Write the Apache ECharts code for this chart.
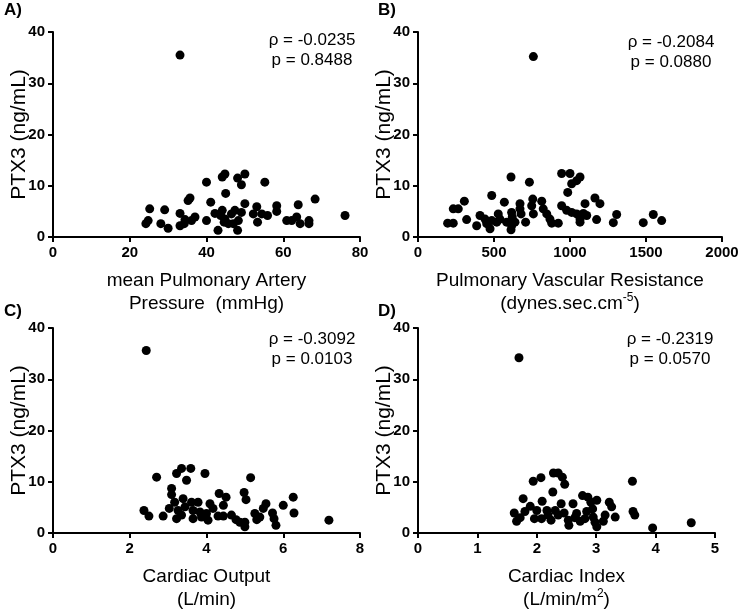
<!DOCTYPE html>
<html><head><meta charset="utf-8">
<script src="https://cdn.jsdelivr.net/npm/echarts@6/dist/echarts.min.js"></script>
<style>html,body{margin:0;padding:0;background:#fff}#c{width:742px;height:616px}</style>
</head><body><div id="c"></div>
<script>
// Panel A: mean Pulmonary Artery Pressure (mmHg) vs PTX3
var aX = [33.1,25.2,24.8,24.2,28.1,30.0,29.1,33.1,33.1,34.2,34.4,35.7,35.2,37.0,36.1,40.0,40.0,41.1,42.2,43.0,44.1,44.8,45.0,44.1,43.7,44.8,44.6,45.7,46.5,47.4,48.1,49.1,50.0,50.0,48.1,47.0,48.3,49.1,53.1,52.2,53.3,54.4,55.2,55.9,58.3,58.3,60.9,62.2,63.9,63.5,64.4,66.7,66.7,68.3,76.1];
var aY = [35.5,5.5,3.2,2.6,2.6,1.7,5.3,4.6,2.2,2.6,3.4,7.6,7.1,3.9,3.2,3.2,10.7,6.8,4.6,1.3,11.7,12.3,8.5,5.2,4.2,3.5,2.9,2.6,4.5,5.2,11.5,10.2,12.3,6.5,1.3,2.6,3.2,4.8,5.9,4.5,2.9,4.5,10.7,4.2,6.1,5.0,3.2,3.2,6.3,3.9,2.6,3.2,2.6,7.4,4.2];
// Panel B: Pulmonary Vascular Resistance vs PTX3
var bX = [759,195,232,232,265,305,320,386,408,441,452,474,485,485,518,528,539,568,583,612,616,620,616,612,638,671,671,678,708,733,755,748,759,814,824,847,868,880,923,945,1000,1011,1044,1066,985,945,978,1011,1044,1066,1066,1099,1088,1110,1164,1197,1175,1307,1285,1482,1548,1603];
var bY = [35.2,2.7,2.7,5.5,5.5,7.0,3.4,2.2,4.2,3.5,2.6,1.6,8.1,3.2,2.9,4.5,3.5,6.8,2.9,11.7,4.8,3.9,2.2,1.4,2.9,6.5,5.5,4.5,2.9,10.7,7.4,6.1,4.5,7.0,5.5,4.5,3.5,2.7,2.7,12.4,12.4,10.4,11.0,11.7,8.7,6.1,5.2,4.8,4.5,3.5,2.9,6.5,4.6,4.2,7.6,6.5,3.4,4.4,2.8,2.8,4.4,3.2];
// Panel C: Cardiac Output (L/min) vs PTX3
var cX = [2.43,2.37,2.50,2.70,2.87,3.03,3.09,3.09,3.22,3.35,3.48,3.59,3.96,3.17,3.26,3.22,3.39,3.44,3.35,3.61,3.65,3.65,3.78,3.83,3.87,4.00,4.04,4.09,4.17,4.33,4.44,4.51,4.30,4.44,4.65,4.77,4.87,5.00,5.00,4.98,5.03,5.15,5.26,5.31,5.39,5.48,5.55,5.72,5.76,5.81,6.00,6.26,6.28,7.19];
var cY = [35.6,4.4,3.3,10.9,3.3,4.8,8.7,7.5,11.6,12.6,10.3,12.6,11.6,6.0,4.4,2.8,6.7,5.1,3.5,6.0,4.4,2.8,6.0,4.1,3.1,3.8,2.5,5.7,4.8,7.7,5.4,7.0,3.3,3.3,3.5,2.6,2.1,2.1,1.2,7.9,6.5,10.8,3.8,2.6,3.1,4.8,5.7,3.9,2.8,1.5,5.4,7.0,3.9,2.5];
// Panel D: Cardiac Index (L/min/m2) vs PTX3
var dX = [1.70,1.62,1.66,1.72,1.77,1.80,1.89,1.94,1.96,2.00,2.07,2.09,2.08,2.17,2.19,2.24,2.27,2.28,2.36,2.43,2.47,2.31,2.36,2.41,2.46,2.53,2.54,2.61,2.64,2.67,2.73,2.77,2.86,2.84,2.81,2.91,2.94,2.95,3.01,3.01,2.98,3.12,3.15,3.22,3.26,3.32,3.61,3.62,3.65,3.95,4.60];
var dY = [34.2,3.9,2.3,3.0,6.7,4.2,5.2,10.1,2.8,4.4,10.8,6.2,2.8,4.4,3.5,2.5,8.0,11.7,11.7,10.9,9.5,4.4,3.5,5.7,3.9,2.5,1.5,5.7,3.0,3.8,2.3,7.3,7.0,4.2,2.8,6.0,4.7,3.1,6.4,1.2,2.1,2.3,3.5,6.0,5.1,3.1,10.1,4.2,3.5,1.0,2.0];
var yTicks = [0,10,20,30,40];
var panelLabels = ['A)','B)','C)','D)'];
var statsRho = ['\u03c1 = -0.0235','\u03c1 = -0.2084','\u03c1 = -0.3092','\u03c1 = -0.2319'];
var statsP = ['p = 0.8488','p = 0.0880','p = 0.0103','p = 0.0570'];
var xNames = ['mean Pulmonary Artery\nPressure  (mmHg)','Pulmonary Vascular Resistance\n(dynes.sec.cm{sup|-5})','Cardiac Output\n(L/min)','Cardiac Index\n(L/min/m{sup|2})'];
var yName = 'PTX3 (ng/mL)';
var xMax = [80,2000,8,5];
var xInt = [20,500,2,1];

function pairs(xs, ys){ return xs.map(function(x,i){return [x, ys[i]];}); }
var seriesData = [pairs(aX,aY), pairs(bX,bY), pairs(cX,cY), pairs(dX,dY)];

var FONT = '"Liberation Sans", Arial, sans-serif';
var grids = [
  {left:53, top:32, width:307, height:205},
  {left:418, top:32, width:304, height:205},
  {left:53, top:328, width:307, height:205},
  {left:418, top:328, width:297, height:205}
];
var axisLine = {show:true, lineStyle:{color:'#000', width:2}};
var axisTick = {show:true, inside:false, length:5, lineStyle:{color:'#000', width:2}};
var xAxes = [], yAxes = [], series = [], graphics = [];
for (var i=0;i<4;i++){
  xAxes.push({type:'value', gridIndex:i, min:0, max:xMax[i], interval:xInt[i],
    axisLine:axisLine, axisTick:axisTick, splitLine:{show:false},
    axisLabel:{color:'#000', fontFamily:FONT, fontWeight:700, fontSize:15, margin:8,
      formatter:function(v){return String(v);}},
    name:xNames[i], nameLocation:'middle', nameGap:32, nameMoveOverlap:false,
    nameTextStyle:{color:'#000', fontFamily:FONT, fontSize:19, lineHeight:23,
      rich:{sup:{fontSize:12, verticalAlign:'top', lineHeight:23, padding:[0,0,10,0], fontFamily:FONT, color:'#000'}}}
  });
  yAxes.push({type:'value', gridIndex:i, min:0, max:40, interval:10,
    axisLine:axisLine, axisTick:axisTick, splitLine:{show:false},
    axisLabel:{color:'#000', fontFamily:FONT, fontWeight:700, fontSize:15, margin:8,
      formatter:function(v){return String(v);}},
    name:yName, nameLocation:'middle', nameGap:23, nameRotate:90, nameMoveOverlap:false,
    nameTextStyle:{color:'#000', fontFamily:FONT, fontSize:21}
  });
  series.push({type:'scatter', xAxisIndex:i, yAxisIndex:i, data:seriesData[i],
    symbol:'circle', symbolSize:9, itemStyle:{color:'#000', opacity:1}, silent:true});
}
var labelPos = [[4,12],[378,12],[4,313],[378,313]];
var statPos = [[312,40],[671,42],[312,339],[670,339]];
for (var j=0;j<4;j++){
  graphics.push({type:'text', left:labelPos[j][0], top:labelPos[j][1]-10,
    style:{text:panelLabels[j], font:'bold 17px '+FONT, fill:'#000'}});
  graphics.push({type:'text', x:statPos[j][0], y:statPos[j][1],
    style:{text:statsRho[j], font:'17px '+FONT, fill:'#000', textAlign:'center', textVerticalAlign:'middle'}});
  graphics.push({type:'text', x:statPos[j][0], y:statPos[j][1]+20,
    style:{text:statsP[j], font:'17px '+FONT, fill:'#000', textAlign:'center', textVerticalAlign:'middle'}});
}
var chart = echarts.init(document.getElementById('c'), null, {renderer:'canvas'});
chart.setOption({animation:false, backgroundColor:'#fff', grid:grids, xAxis:xAxes, yAxis:yAxes, series:series, graphic:graphics});
</script>
</body></html>
